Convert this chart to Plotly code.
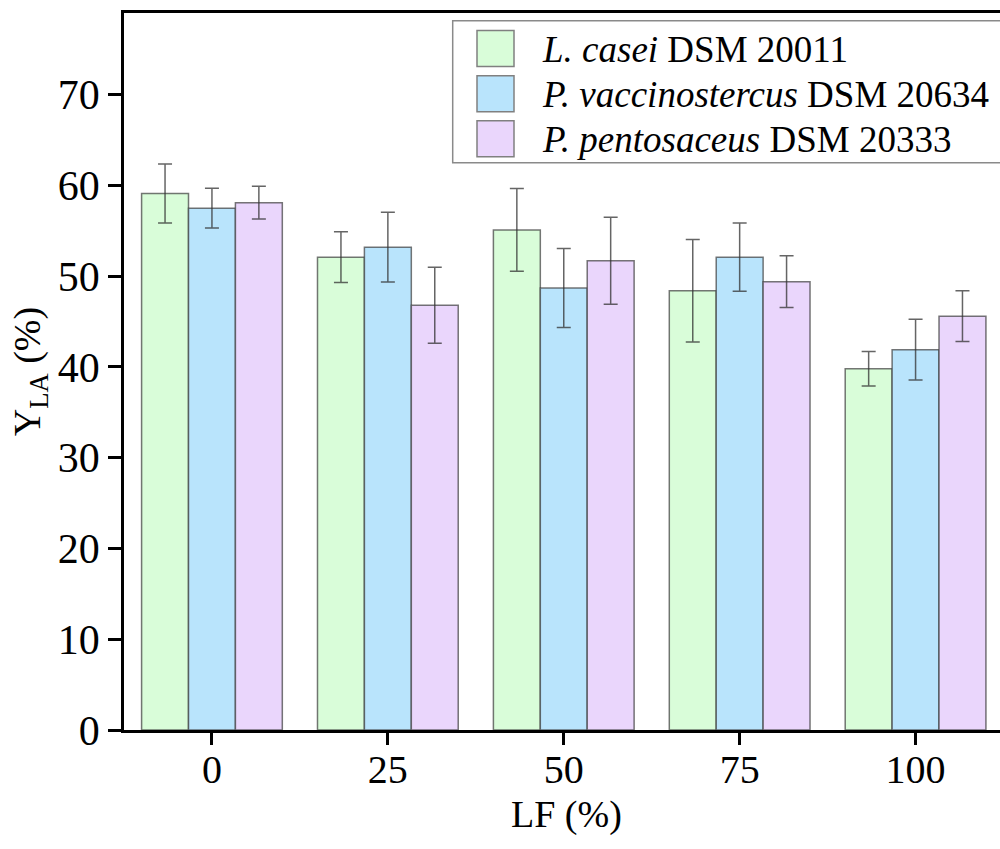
import plotly.graph_objects as go

lf = ["0", "25", "50", "75", "100"]
series_names = ["<i>L. casei</i> DSM 20011",
                "<i>P. vaccinostercus</i> DSM 20634",
                "<i>P. pentosaceus</i> DSM 20333"]
casei = [59.1, 52.1, 55.1, 48.4, 39.8]
casei_err = [3.25, 2.8, 4.55, 5.65, 1.9]
vacc = [57.5, 53.2, 48.7, 52.1, 41.9]
vacc_err = [2.2, 3.85, 4.35, 3.75, 3.35]
pent = [58.1, 46.8, 51.7, 49.4, 45.6]
pent_err = [1.8, 4.2, 4.8, 2.85, 2.8]
colors = ["#D9FDD9", "#B9E4FC", "#EAD6FC"]
x_title = "LF (%)"

W, H = 1000, 849
L, R, T, B = 124, 0, 13, 119
pw, ph = W - L - R, H - T - B

fig = go.Figure()
for name, vals, errs, col in zip(series_names, [casei, vacc, pent],
                                 [casei_err, vacc_err, pent_err], colors):
    fig.add_trace(go.Bar(
        x=lf, y=vals, name=name, showlegend=False,
        marker=dict(color=col, line=dict(color="rgba(60,60,60,0.7)", width=1.5)),
        error_y=dict(type="data", array=errs, visible=True,
                     color="rgba(50,50,50,0.75)", thickness=1.5, width=7),
    ))

def px_x(p):
    return (p - L) / pw

def px_y(p):
    return (H - B - p) / ph

shapes = []
annotations = []
# legend box
shapes.append(dict(type="rect", xref="paper", yref="paper",
                   x0=px_x(452.7), x1=px_x(1040), y0=px_y(162.7), y1=px_y(20.7),
                   line=dict(color="#8a8a8a", width=1.5), fillcolor="white", layer="above"))
row_centers = [48.5, 93.7, 138.8]
for name, col, cy in zip(series_names, colors, row_centers):
    shapes.append(dict(type="rect", xref="paper", yref="paper",
                       x0=px_x(477), x1=px_x(514), y0=px_y(cy + 18), y1=px_y(cy - 18),
                       line=dict(color="#808080", width=1.5), fillcolor=col, layer="above"))
    annotations.append(dict(xref="paper", yref="paper", x=px_x(540), y=px_y(cy + 1),
                            xanchor="left", yanchor="middle", text=name, showarrow=False,
                            font=dict(family="Liberation Serif", size=37, color="black")))
# x-axis title
annotations.append(dict(xref="paper", yref="paper", x=px_x(566), y=px_y(814),
                        xanchor="center", yanchor="middle", text=x_title, showarrow=False,
                        font=dict(family="Liberation Serif", size=38, color="black")))

fig.update_layout(
    width=W, height=H,
    margin=dict(l=L, r=R, t=T, b=B),
    plot_bgcolor="white", paper_bgcolor="white",
    barmode="group", bargap=0.2, bargroupgap=0,
    font=dict(family="Liberation Serif", color="black"),
    shapes=shapes, annotations=annotations,
    xaxis=dict(type="category", range=[-0.5, 4.48], showline=True, linecolor="black",
               linewidth=2.5, mirror=True, ticks="outside", ticklen=12, tickwidth=2.5,
               tickcolor="black", showgrid=False, zeroline=False,
               ticklabelstandoff=-10,
               tickfont=dict(size=40, family="Liberation Serif")),
    yaxis=dict(range=[0, 79], showline=True, linecolor="black", linewidth=2.5,
               ticks="outside", ticklen=13, tickwidth=2.5, tickcolor="black",
               tickvals=[0, 10, 20, 30, 40, 50, 60, 70], showgrid=False, zeroline=False,
               tickfont=dict(size=42, family="Liberation Serif"),
               title=dict(text="Y<sub>LA</sub> (%)", font=dict(size=38, family="Liberation Serif"),
                          standoff=6)),
)

fig.write_html("out.html", config={"displayModeBar": False},
               post_script="document.body.style.margin='0';document.body.style.overflow='hidden';")
